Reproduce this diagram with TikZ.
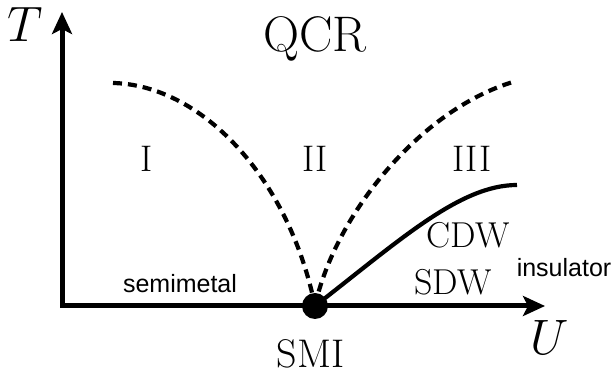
\documentclass[tikz,border=0pt]{standalone}
\usepackage{fontspec}
\setsansfont{Liberation Sans}
\usetikzlibrary{arrows.meta}

\begin{document}
\begin{tikzpicture}[x=0.5pt,y=-0.5pt,
  axis/.style={line width=2.5pt,{Stealth[length=11pt,width=10pt,inset=2.5pt]}-{Stealth[length=11pt,width=10pt,inset=2.5pt]}},
  crossover/.style={line width=2.1pt,dash pattern=on 4.5pt off 3pt},
  transition/.style={line width=2.1pt},
  dot/.style={circle,fill=black,inner sep=0pt,minimum size=13pt},
  lbl/.style={inner sep=0pt,anchor=base}]
\useasboundingbox (0,0) rectangle (616,373);
% axes
\coordinate (O)    at (62,306);
\coordinate (ytip) at (62,12);
\coordinate (xtip) at (545,306);
\draw[axis] (ytip) |- (xtip);
% phase boundaries
\coordinate (qcrL) at (113,83);
\coordinate (qcrR) at (513,82);
\coordinate (cdwE) at (517,185);
\coordinate (smiC) at (315,306);
\draw[crossover] (qcrL) .. controls (200,85) and (288,175) .. (smiC);
\draw[crossover] (smiC) .. controls (335,215) and (420,110) .. (qcrR);
\draw[transition] (smiC) .. controls (400,240) and (460,185) .. (cdwE);
\node[dot] (smi) at (smiC) {};
% labels
\node[lbl] (tlab)  at (25,42)   {\fontsize{27}{32}\selectfont $T$};
\node[lbl] (ulab)  at (550,355) {\fontsize{26}{31}\selectfont $U$};
\node[lbl] (qcr)   at (315,52)  {\fontsize{25}{30}\selectfont QCR};
\node[lbl] (r1)    at (147,172) {\fontsize{18.5}{22}\selectfont I};
\node[lbl] (r2)    at (315,172) {\fontsize{18.5}{22}\selectfont II};
\node[lbl] (r3)    at (472,172) {\fontsize{18.5}{22}\selectfont III};
\node[lbl] (cdw)   at (468,248) {\fontsize{18}{21}\selectfont CDW};
\node[lbl] (sdw)   at (453,295) {\fontsize{18}{21}\selectfont SDW};
\node[lbl] (ins)   at (564,277) {\fontsize{12.5}{15}\selectfont\sffamily insulator};
\node[lbl] (semi)  at (180,293) {\fontsize{12.5}{15}\selectfont\sffamily semimetal};
\node[lbl] (smil)  at (310.5,368) {\fontsize{20}{24}\selectfont SMI};
\end{tikzpicture}
\end{document}
